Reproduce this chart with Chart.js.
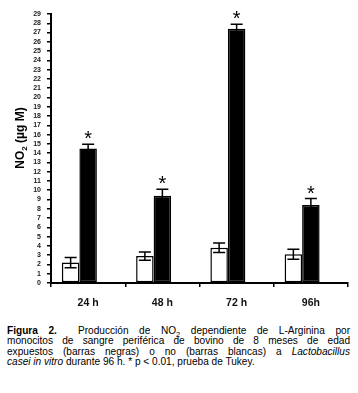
<!DOCTYPE html>
<html>
<head>
<meta charset="utf-8">
<script src="https://cdn.jsdelivr.net/npm/chart.js@4.4.1/dist/chart.umd.min.js"></script>
<style>
  html, body { margin: 0; padding: 0; background: #fff; }
  #wrap { position: relative; width: 358px; height: 393px; overflow: hidden; }
  #c { position: absolute; left: 0; top: 0; }
  #cap { position: absolute; left: 7px; top: 326px; width: 343px;
         font-family: "Liberation Sans", Arial, sans-serif; font-size: 10.1px; line-height: 10.4px; color: #000; }
  #cap div { text-align: justify; text-align-last: justify; white-space: nowrap; }
  #cap div.last { text-align-last: left; }
</style>
</head>
<body>
<div id="wrap">
  <canvas id="c" width="358" height="310"></canvas>
  <div id="cap">
    <div><b>Figura 2.</b>&nbsp; Producción de NO<sub style="font-size:7.5px;line-height:0">2</sub> dependiente de L-Arginina por</div>
    <div>monocitos de sangre periférica de bovino de 8 meses de edad</div>
    <div>expuestos (barras negras) o no (barras blancas) a <i>Lactobacillus</i></div>
    <div class="last"><i>casei in vitro</i> durante 96 h. * p &lt; 0.01, prueba de Tukey.</div>
  </div>
</div>
<script>
const categories = ['24 h', '48 h', '72 h', '96h'];
const controlValues = [2.2, 2.9, 3.8, 3.1];
const controlErrors = [0.55, 0.45, 0.5, 0.55];
const exposedValues = [14.5, 9.4, 27.4, 8.4];
const exposedErrors = [0.45, 0.7, 0.5, 0.7];
const significant = [true, true, true, true];
const yMin = 0, yMax = 29, yStep = 1;

const errorBarPlugin = {
  id: 'errorBars',
  afterDatasetsDraw(chart) {
    const ctx = chart.ctx;
    const y = chart.scales.y;
    const sets = [[0, controlErrors], [1, exposedErrors]];
    ctx.save();
    ctx.strokeStyle = '#000';
    ctx.lineWidth = 1.5;
    sets.forEach(([di, errs]) => {
      const meta = chart.getDatasetMeta(di);
      meta.data.forEach((bar, i) => {
        const v = chart.data.datasets[di].data[i];
        const e = errs[i];
        const x = bar.x;
        const yt = y.getPixelForValue(v + e);
        const yb = y.getPixelForValue(v - e);
        const cap = 6;
        ctx.beginPath();
        ctx.moveTo(x, yt); ctx.lineTo(x, yb);
        ctx.moveTo(x - cap, yt); ctx.lineTo(x + cap, yt);
        ctx.moveTo(x - cap, yb); ctx.lineTo(x + cap, yb);
        ctx.stroke();
      });
    });
    // significance asterisks
    const meta = chart.getDatasetMeta(1);
    ctx.fillStyle = '#000';
    ctx.font = '20px "Liberation Sans", Arial, sans-serif';
    ctx.textAlign = 'center';
    ctx.textBaseline = 'alphabetic';
    meta.data.forEach((bar, i) => {
      if (!significant[i]) return;
      const yt = y.getPixelForValue(exposedValues[i] + exposedErrors[i]);
      ctx.fillText('*', bar.x, yt + 1);
    });
    ctx.restore();
  },
  afterDraw(chart) {
    const ctx = chart.ctx;
    ctx.save();
    ctx.translate(21, 138);
    ctx.rotate(-Math.PI / 2);
    ctx.fillStyle = '#000';
    ctx.textBaseline = 'middle';
    ctx.textAlign = 'left';
    const big = 'bold 12px "Liberation Sans", Arial, sans-serif';
    const small = 'bold 8px "Liberation Sans", Arial, sans-serif';
    ctx.font = big;
    const w1 = ctx.measureText('NO').width;
    ctx.font = small;
    const w2 = ctx.measureText('2').width;
    ctx.font = big;
    const w3 = ctx.measureText(' (µg M)').width;
    let x0 = -(w1 + w2 + w3) / 2;
    ctx.fillText('NO', x0, 0);
    ctx.font = small;
    ctx.fillText('2', x0 + w1, 4);
    ctx.font = big;
    ctx.fillText(' (µg M)', x0 + w1 + w2, 0);
    ctx.restore();
  }
};

new Chart(document.getElementById('c'), {
  type: 'bar',
  data: {
    labels: categories,
    datasets: [
      { label: 'No expuestos', data: controlValues, backgroundColor: '#fff', borderColor: '#000', borderWidth: 1.5, borderSkipped: false },
      { label: 'Expuestos', data: exposedValues, backgroundColor: '#000', borderColor: '#000', borderWidth: 1.5, borderSkipped: false },
      { label: '', data: [null, null, null, null], backgroundColor: 'rgba(0,0,0,0)' }
    ]
  },
  options: {
    responsive: false,
    animation: false,
    events: [],
    categoryPercentage: 0.707,
    barPercentage: 1.0,
    layout: { padding: { left: 0, right: 10, top: 14, bottom: 0 } },
    plugins: { legend: { display: false }, tooltip: { enabled: false }, title: { display: false } },
    scales: {
      x: {
        offset: true,
        grid: { offset: true, drawOnChartArea: false, drawTicks: true, tickLength: 4, color: '#000', lineWidth: 1.5 },
        border: { color: '#000', width: 2 },
        ticks: { color: '#111', padding: 10, font: { family: '"Liberation Sans", Arial, sans-serif', size: 10.5, weight: 'bold' } },
        afterFit(scale) { scale.height = 27; }
      },
      y: {
        min: yMin, max: yMax,
        grid: { drawOnChartArea: false, drawTicks: true, tickLength: 4, color: '#000', lineWidth: 1.5 },
        border: { color: '#000', width: 2 },
        ticks: { stepSize: yStep, autoSkip: false, color: '#222', padding: 6, font: { family: '"Liberation Sans", Arial, sans-serif', size: 7, weight: 'bold' } },
        afterFit(scale) { scale.width = 51; }
      }
    }
  },
  plugins: [errorBarPlugin]
});
</script>
</body>
</html>
